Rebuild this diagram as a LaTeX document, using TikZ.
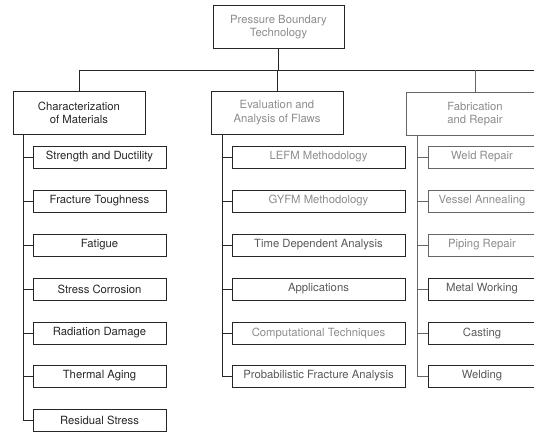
\documentclass[tikz,border=0pt]{standalone}
\usepackage{fontspec}
\setmainfont{TeX Gyre Heros}
\usetikzlibrary{calc}
\begin{document}
\begin{tikzpicture}[x=1pt,y=-1pt,
  box/.style={draw=black!85, line width=0.9pt, rectangle, inner sep=0pt, align=center,
    font=\fontsize{11.3}{13.5}\selectfont, text=black!85},
  subbox/.style={box, minimum width=133pt, minimum height=22pt},
  headbox/.style={box, minimum height=43pt},
  faint/.style={text=black!45},
  mid/.style={text=black!65},
  lightedge/.style={draw=black!60},
  conn/.style={draw=black!85, line width=0.9pt}]
\useasboundingbox (0,0) rectangle (534,432);
% top
\node[headbox, minimum width=131pt, faint] (top) at (278.5,27) {Pressure Boundary\\Technology};
% level 2
\node[headbox, minimum width=132pt] (char) at (79,113) {Characterization\\of Materials};
\node[headbox, minimum width=132pt, faint] (eval) at (277,112.5) {Evaluation and\\Analysis of Flaws};
\node[headbox, minimum width=138pt, faint, lightedge] (fab) at (475,114) {Fabrication\\and Repair};
% left column
\node[subbox] (a1) at (99.5,157) {Strength and Ductility};
\node[subbox] (a2) at (99.5,201) {Fracture Toughness};
\node[subbox] (a3) at (99.5,245) {Fatigue};
\node[subbox] (a4) at (99.5,289) {Stress Corrosion};
\node[subbox] (a5) at (99.5,333) {Radiation Damage};
\node[subbox] (a6) at (99.5,376) {Thermal Aging};
\node[subbox] (a7) at (99.5,420) {Residual Stress};
% middle column
\node[subbox, minimum width=173pt, faint] (b1) at (318.5,157) {LEFM Methodology};
\node[subbox, minimum width=173pt, faint] (b2) at (318.5,201) {GYFM Methodology};
\node[subbox, minimum width=173pt, mid] (b3) at (318.5,245) {Time Dependent Analysis};
\node[subbox, minimum width=173pt, mid] (b4) at (318.5,289) {Applications};
\node[subbox, minimum width=173pt, faint] (b5) at (318.5,333) {Computational Techniques};
\node[subbox, minimum width=173pt, mid] (b6) at (318.5,376) {Probabilistic Fracture Analysis};
% right column
\node[subbox, minimum width=108pt, faint, lightedge] (c1) at (482,157) {Weld Repair};
\node[subbox, minimum width=108pt, faint, lightedge] (c2) at (482,201) {Vessel Annealing};
\node[subbox, minimum width=108pt, faint, lightedge] (c3) at (482,245) {Piping Repair};
\node[subbox, minimum width=108pt, mid] (c4) at (482,289) {Metal Working};
\node[subbox, minimum width=108pt, mid] (c5) at (482,333) {Casting};
\node[subbox, minimum width=108pt, mid] (c6) at (482,376) {Welding};
% trunk
\coordinate (hl) at (79,70);
\coordinate (hr) at (540,70);
\draw[conn] (hl) -- (hr);
\draw[conn] (top.south) -- (top.south |- hl);
\draw[conn] (char.north) -- (char.north |- hl);
\draw[conn] (eval.north) -- (eval.north |- hl);
\draw[conn, draw=black!60] (fab.north) -- (fab.north |- hl);
% spines
\coordinate (sa) at ($(char.south west)+(11,0)$);
\coordinate (sb) at ($(eval.south west)+(12,0)$);
\coordinate (sc) at ($(fab.south west)+(12,0)$);
\draw[conn] (sa) |- (a7.west);
\foreach \n in {a1,a2,a3,a4,a5,a6} \draw[conn] (sa |- \n.west) -- (\n.west);
\draw[conn] (sb) |- (b6.west);
\foreach \n in {b1,b2,b3,b4,b5} \draw[conn] (sb |- \n.west) -- (\n.west);
\draw[conn, draw=black!60] (sc) |- (c6.west);
\foreach \n in {c1,c2,c3,c4,c5} \draw[conn, draw=black!60] (sc |- \n.west) -- (\n.west);
\end{tikzpicture}
\end{document}
